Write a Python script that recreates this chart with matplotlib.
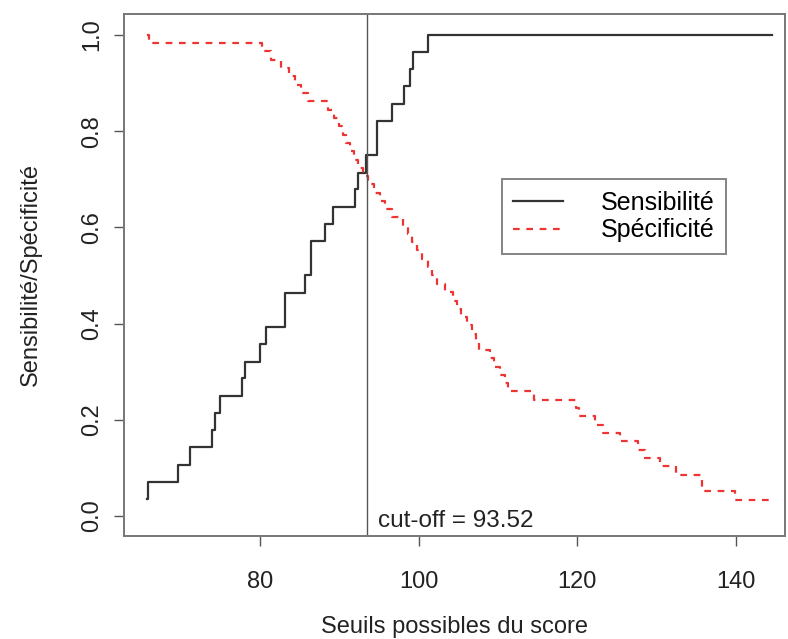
import matplotlib
matplotlib.use("Agg")
import matplotlib.pyplot as plt

plt.rcParams["font.family"] = ["Liberation Sans", "DejaVu Sans"]

# Sensibilité : seuil à partir duquel chaque palier commence
sens_seuils = [65.8, 65.9, 69.7, 71.2, 73.9, 74.3, 75.0, 77.7, 78.1, 80.0,
               80.8, 83.2, 85.7, 86.4, 88.2, 89.2, 92.0, 92.4, 93.4, 94.8,
               96.7, 98.1, 98.9, 99.3, 101.2, 144.6]
sens_valeurs = [0.036, 0.071, 0.107, 0.143, 0.179, 0.214, 0.250, 0.286, 0.321, 0.357,
                0.393, 0.464, 0.500, 0.571, 0.607, 0.643, 0.679, 0.714, 0.750, 0.821,
                0.857, 0.893, 0.929, 0.964, 1.000, 1.000]

# Spécificité
spec_seuils = [65.8, 66.0, 80.2, 81.4, 82.6, 83.6, 84.4, 85.2, 86.0, 88.6,
               89.3, 89.9, 90.4, 90.8, 91.3, 91.8, 92.4, 93.0, 93.6, 94.4,
               95.1, 95.8, 96.6, 98.0, 98.6, 99.2, 99.8, 100.4, 101.2, 101.7,
               102.3, 103.3, 104.3, 104.8, 105.4, 106.1, 106.7, 107.2, 107.6, 109.0,
               109.5, 110.3, 110.9, 111.3, 114.5, 119.9, 120.2, 122.2, 123.3, 125.4,
               127.6, 128.6, 130.4, 132.5, 135.7, 139.9, 144.6]
spec_valeurs = [1.000, 0.983, 0.966, 0.948, 0.931, 0.914, 0.897, 0.879, 0.862, 0.845,
                0.828, 0.810, 0.793, 0.776, 0.759, 0.741, 0.724, 0.707, 0.690, 0.672,
                0.655, 0.638, 0.621, 0.603, 0.586, 0.569, 0.552, 0.534, 0.517, 0.500,
                0.483, 0.466, 0.448, 0.431, 0.414, 0.397, 0.379, 0.362, 0.345, 0.328,
                0.310, 0.293, 0.276, 0.259, 0.241, 0.224, 0.207, 0.190, 0.172, 0.155,
                0.138, 0.121, 0.103, 0.086, 0.052, 0.034, 0.034]

cutoff = 93.52
x_ticks = [80, 100, 120, 140]
y_ticks = [0.0, 0.2, 0.4, 0.6, 0.8, 1.0]

fig = plt.figure(figsize=(7.88, 6.39), dpi=100)
ax = fig.add_axes([0.1574, 0.1612, 0.8388, 0.8169])

ax.plot(sens_seuils, sens_valeurs, drawstyle="steps-post", color="#333333",
        lw=1.6, label="Sensibilité")
ax.plot(spec_seuils, spec_valeurs, drawstyle="steps-post", color="#ee3333",
        lw=1.6, linestyle=(0, (3, 3)), label="Spécificité")
ax.axvline(cutoff, color="#555555", lw=1.0)
ax.text(cutoff + 1.3, -0.01, f"cut-off = {cutoff:.2f}", fontsize=17.5,
        color="#222222", ha="left", va="center")

ax.set_xlim(62.85, 146.2)
ax.set_ylim(-0.0416, 1.0437)
ax.set_xticks(x_ticks)
ax.set_yticks(y_ticks)
ax.set_yticklabels([f"{v:.1f}" for v in y_ticks], rotation=90, va="center")
ax.tick_params(direction="out", length=7, width=1.0, colors="#555555",
               labelcolor="#222222", labelsize=17)
ax.tick_params(axis="x", pad=18)
ax.tick_params(axis="y", pad=8)
for side in ax.spines.values():
    side.set_color("#777777")
    side.set_linewidth(1.4)

ax.set_xlabel("Seuils possibles du score", fontsize=17, color="#222222", labelpad=17)
ax.set_ylabel("Sensibilité/Spécificité", fontsize=17, color="#222222", labelpad=28)

leg = ax.legend(loc="upper left", bbox_to_anchor=(0.553, 0.707), fontsize=18,
                frameon=True, fancybox=False, handlelength=2.0, borderpad=0.45,
                labelspacing=0.15, handletextpad=1.5)
leg.get_frame().set_edgecolor("#666666")
leg.get_frame().set_linewidth(1.4)

fig.savefig("out.png", dpi=100)
